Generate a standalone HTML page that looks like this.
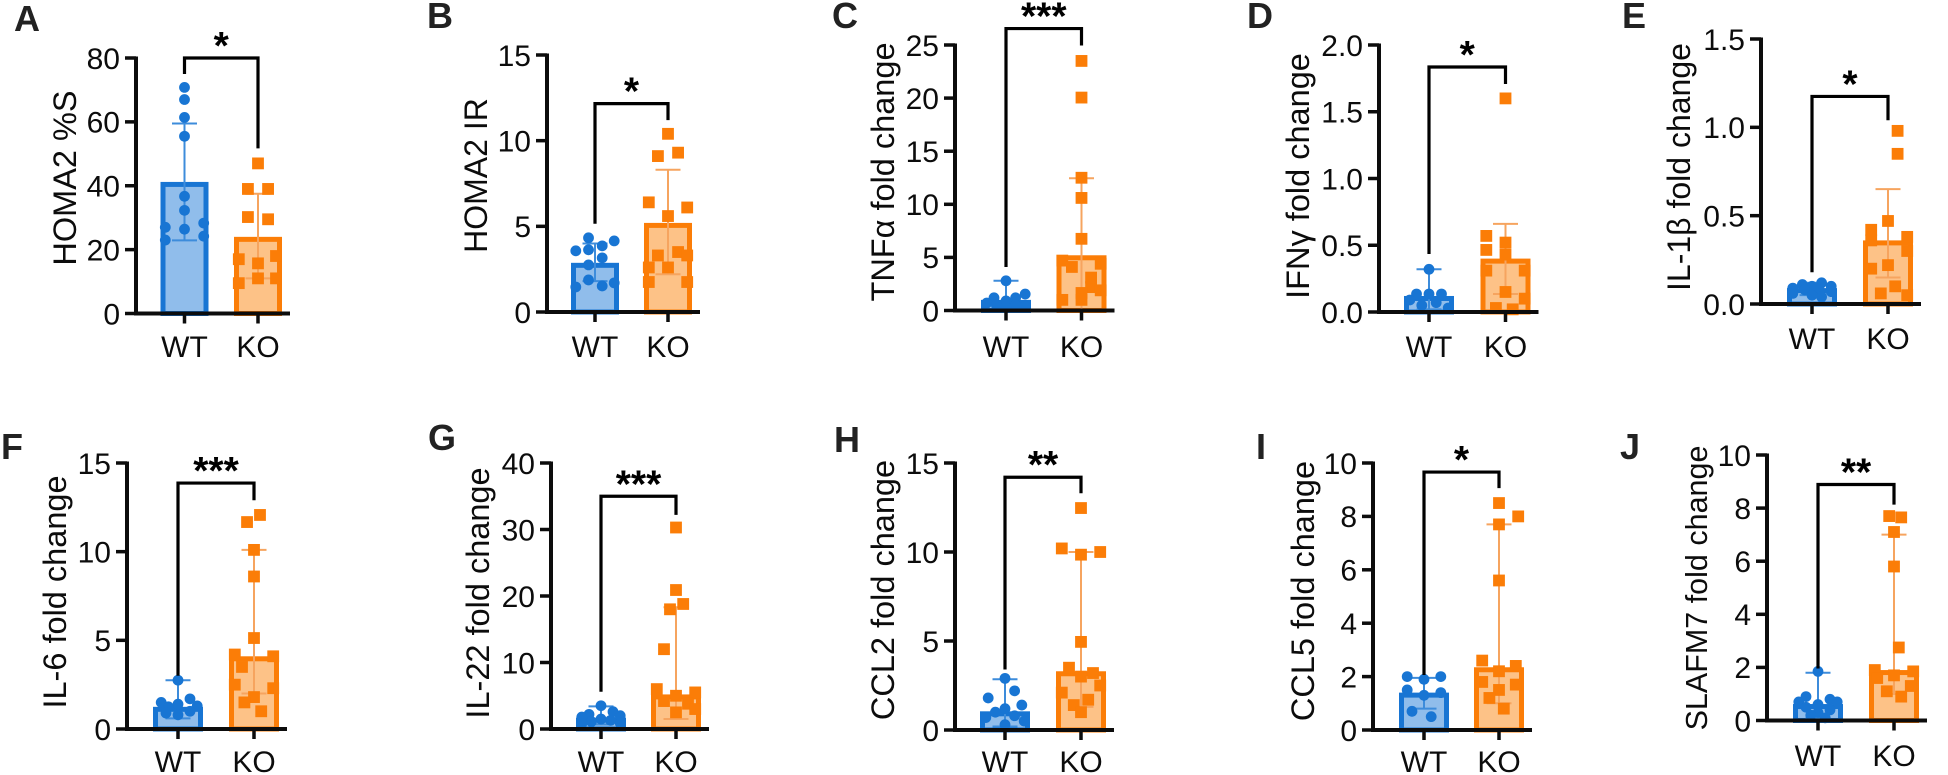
<!DOCTYPE html>
<html lang="en">
<head>
<meta charset="utf-8">
<title>HOMA2 and cytokine fold change in WT and KO</title>
<style>
html,body{margin:0;padding:0;background:#fff;}
body{width:1948px;height:775px;overflow:hidden;}
svg{display:block;font-family:"Liberation Sans",Arial,sans-serif;}
</style>
</head>
<body>
<svg id="figure" xmlns="http://www.w3.org/2000/svg" width="1948" height="775" viewBox="0 0 1948 775"></svg>
<script>
// ---- data ----
const panelLetters = ["A","B","C","D","E","F","G","H","I","J"];
const groupLabels = ["WT","KO"];
const yTitles = ["HOMA2 %S","HOMA2 IR","TNFα fold change","IFNγ fold change","IL-1β fold change","IL-6 fold change","IL-22 fold change","CCL2 fold change","CCL5 fold change","SLAFM7 fold change"];
const tickLabels = [
  ["0","20","40","60","80"],
  ["0","5","10","15"],
  ["0","5","10","15","20","25"],
  ["0.0","0.5","1.0","1.5","2.0"],
  ["0.0","0.5","1.0","1.5"],
  ["0","5","10","15"],
  ["0","10","20","30","40"],
  ["0","5","10","15"],
  ["0","2","4","6","8","10"],
  ["0","2","4","6","8","10"]
];
const stars = ["*","*","***","*","*","***","***","**","*","**"];
const wtMeans = [41.2,2.87,1.0,0.12,0.09,1.25,1.7,1.05,1.4,0.62];
const wtUppers = [59.5,4.0,2.8,0.32,0.12,2.75,3.4,2.85,1.95,1.8];
const wtLowers = [22.9,1.8,0,0.02,0.05,0.6,0.7,0.2,0.8,0.1];
const koMeans = [24,5.2,5.2,0.40,0.36,4.1,5.2,3.3,2.35,1.9];
const koUppers = [37.5,8.3,12.45,0.66,0.65,10.1,18.3,10,7.7,7.0];
const koLowers = [11,2.2,0,0.135,0.15,2,1.5,1.3,1,1];
const bracketTops = [80,12.16,26.55,1.835,1.175,13.87,35,14.2,9.66,8.89];
const bracketLeftEnds = [75,5.15,4.1,0.434,0.18,3,5.6,3.4,2.06,1.96];
const bracketRightEnds = [51.7,11.2,24.95,1.708,1.04,12.9,32.2,13.3,9.06,8.13];
const wtValues = [
  [70.8,67,61.4,55.5,36.7,32.3,26.4,27,23,28.3,24.2],
  [4.33,3.57,3.86,4.15,3.63,3.16,2.75,1.87,1.52,1.7,1.46],
  [2.8,1.55,1.2,1.2,0.9,0.7,0.5,0.5,0.4,0.3],
  [0.32,0.135,0.135,0.135,0.09,0.07,0.05,0.03],
  [0.12,0.11,0.1,0.1,0.09,0.08,0.08,0.07,0.06,0.05,0.04],
  [2.75,1.7,1.5,1.4,1.3,1.25,1,0.9,0.8],
  [3.5,2.6,2.2,2,1.8,1.5,1.3,1.1,0.9,0.8],
  [2.9,2.2,1.8,1.4,1.2,1,0.8,0.7,0.5,0.3],
  [2,2,1.9,1.5,1.4,1.3,0.7,0.5],
  [1.85,0.9,0.8,0.7,0.7,0.6,0.5,0.4,0.3,0.2,0.1]
];
const wtSwarm = [
  [0,0,0,0,0,0,0,-0.8,-0.8,0.8,0.8],
  [-0.27,-0.8,0.3,0.8,-0.27,0.3,-0.27,-0.27,0.3,0.8,-0.8],
  [0,0.8,0.4,-0.5,0,-0.8,0.4,-0.4,0.8,0],
  [0,-0.52,0,0.52,-0.8,0.3,-0.3,0.8],
  [0.4,-0.4,0,0.8,-0.8,0.3,-0.3,0.8,-0.8,0,0.4],
  [0,0.5,-0.7,0,0.8,-0.4,0.5,-0.5,0],
  [0,0.5,-0.5,0.8,-0.8,0,0.4,-0.4,0.8,-0.8],
  [0,0.4,-0.7,0.7,0,-0.4,0.4,-0.8,0.8,0],
  [-0.7,0.7,0,-0.7,0.7,0,-0.5,0.3],
  [0,-0.5,0.5,-0.8,0.8,0,-0.5,0.5,0,-0.3,0.3]
];
const koValues = [
  [47,39,39,30.2,29.5,15.7,11,17,18,9.5,11],
  [10.4,9.1,9.3,6.4,6.1,5.6,3.3,3.5,3.3,2.6,2.6,1.75,1.75],
  [23.5,20.05,12.5,10.6,6.75,4.7,4.4,4.1,2.2,3.1,1.65,1,1.9,1],
  [1.6,0.57,0.465,0.52,0.43,0.31,0.31,0.15,0.1,0.03,0.02],
  [0.98,0.85,0.47,0.42,0.38,0.36,0.3,0.22,0.2,0.1,0.06,0.05],
  [12.07,11.67,10.1,8.6,5.13,4.2,4.1,3.5,2.5,2.3,1.8,1.5,1],
  [30.3,20.9,18.8,18,12,6,5.5,5,4.2,3.8,3,2.5],
  [12.47,10.2,9.85,10,4.95,3.5,3.2,3,2.5,2.1,1.7,1.4,1],
  [8.5,8,7.7,5.6,2.6,2.4,2.2,1.8,1.7,1.5,1.2,0.8],
  [7.7,7.65,7.1,5.8,2.75,1.9,1.85,1.7,1.6,1.3,1.1,0.9]
];
const koSwarm = [
  [0,-0.42,0.42,-0.42,0.42,0,0,-0.8,0.75,-0.8,0.75],
  [0,-0.42,0.42,-0.8,0.8,0,-0.42,0.42,0.8,0,-0.8,-0.8,0.8],
  [0,0,0,0,0,-0.8,0.8,-0.4,0.4,0.4,0,-0.8,0.8,0],
  [0,-0.8,-0.8,0,0,-0.8,0.8,0,0.8,-0.4,0.3],
  [0.4,0.4,0,-0.7,0.8,-0.7,0.8,0,-0.7,0.3,-0.3,0.8],
  [0.25,-0.29,0,0,0,-0.8,0.8,-0.5,-0.8,0.8,0,-0.4,0.3],
  [0,0,0.3,-0.25,-0.5,-0.8,0.8,0,-0.5,0.5,0.8,0],
  [0,-0.8,0,0.8,0,-0.5,0.5,0,0.8,-0.8,0.3,-0.3,0],
  [0,0.8,0,0,-0.7,0.7,0,-0.7,0.7,0,-0.4,0.2],
  [-0.2,0.3,0,0,0.2,-0.8,0.8,0,-0.7,0.7,-0.3,0.3]
];

// ---- panel layout (not data) ----
const frames = [
  {ax:136,wt:184.5,ko:258,bw:48,y0:313.5,yT:58,tx:65,ty:178,fs:32.5,lx:14,ly:31,base:357},
  {ax:547,wt:595,ko:668,bw:48,y0:312,yT:55,tx:476,ty:175.5,fs:32,lx:427,ly:28,base:357},
  {ax:955,wt:1006,ko:1081.5,bw:50,y0:310.5,yT:45,tx:883,ty:172,fs:32.5,lx:832,ly:28,base:357},
  {ax:1379,wt:1429,ko:1505.5,bw:50,y0:312,yT:45,tx:1298,ty:176,fs:32.5,lx:1247,ly:28,base:357},
  {ax:1761,wt:1812,ko:1888,bw:50,y0:304,yT:39,tx:1679,ty:167,fs:32,lx:1622,ly:28,base:349},
  {ax:127,wt:178,ko:254,bw:50,y0:729,yT:463,tx:55,ty:592,fs:32.5,lx:1,ly:459,base:772},
  {ax:551,wt:601,ko:676,bw:50,y0:729,yT:463,tx:478,ty:593,fs:32.5,lx:428,ly:450,base:772},
  {ax:955,wt:1005,ko:1081,bw:50,y0:730,yT:463,tx:883,ty:590,fs:32.5,lx:834,ly:452,base:772},
  {ax:1373,wt:1424,ko:1499,bw:50,y0:730,yT:463,tx:1303,ty:591,fs:32.5,lx:1256,ly:459,base:772},
  {ax:1767,wt:1818,ko:1894,bw:50,y0:720.5,yT:455,tx:1696,ty:588,fs:30.5,lx:1620,ly:459,base:766}
];
const blue = {solid:"#1875d3", light:"#90bdeb", err:"#3d8cdb"};
const orange = {solid:"#fb7d07", light:"#fdc287", err:"#f6a45f"};
const ink = "#0c0c0c";
const NS = "http://www.w3.org/2000/svg";
const root = document.getElementById("figure");

function mk(parent, tag, props, text){
  const el = document.createElementNS(NS, tag);
  for (const k in props) el.setAttribute(k, props[k]);
  if (text !== undefined) el.textContent = text;
  parent.appendChild(el);
  return el;
}

function drawGroup(g, i, f, yScale, cx, col, groupKey, mean, upper, lower, vals, swarm){
  const bar = mk(g, "rect", {x:cx-f.bw/2+2.5, y:yScale(mean)+2.5, width:f.bw-5, height:Math.max(0,f.y0-yScale(mean)-2.5), fill:col.light, stroke:col.solid, "stroke-width":5});
  
  

  const errV = mk(g, "line", {x1:cx, x2:cx, y1:yScale(upper), y2:yScale(lower), stroke:col.err, "stroke-width":2});
  
  
  const capU = mk(g, "line", {x1:cx-12.5, x2:cx+12.5, y1:yScale(upper), y2:yScale(upper), stroke:col.err, "stroke-width":2});
  
  
  const capL = mk(g, "line", {x1:cx-12.5, x2:cx+12.5, y1:yScale(lower), y2:yScale(lower), stroke:col.err, "stroke-width":2});
  
  

  vals.forEach(function(v, j){
    const px = cx + swarm[j] * 24;
    const py = yScale(v);
    let pt;
    if (groupKey === "wt") {
      pt = mk(g, "circle", {cx:px, cy:py, r:5.4, fill:col.solid});
    } else {
      pt = mk(g, "rect", {x:px-5.9, y:py-5.9, width:11.8, height:11.8, fill:col.solid});
    }
    
    
  });
}

frames.forEach(function(f, i){
  const labels = tickLabels[i];
  const maxTick = parseFloat(labels[labels.length-1]);
  const yScale = function(v){ return f.y0 - v * (f.y0 - f.yT) / maxTick; };

  const g = mk(root, "g", {});
  
  

  const letter = mk(g, "text", {x:f.lx, y:f.ly, "font-size":36, "font-weight":700, fill:"#222"}, panelLetters[i]);
  
  

  const title = mk(g, "text", {transform:"translate(" + (f.tx + 11) + "," + f.ty + ") rotate(-90)", "text-anchor":"middle", "font-size":f.fs, fill:ink}, yTitles[i]);
  
  

  drawGroup(g, i, f, yScale, f.wt, blue, "wt", wtMeans[i], wtUppers[i], wtLowers[i], wtValues[i], wtSwarm[i]);
  drawGroup(g, i, f, yScale, f.ko, orange, "ko", koMeans[i], koUppers[i], koLowers[i], koValues[i], koSwarm[i]);

  const yAxis = mk(g, "line", {x1:f.ax, x2:f.ax, y1:f.yT-1.5, y2:f.y0+2, stroke:ink, "stroke-width":4});
  
  
  const xAxis = mk(g, "line", {x1:f.ax-2, x2:f.ko+f.bw/2+8, y1:f.y0, y2:f.y0, stroke:ink, "stroke-width":4});
  
  

  labels.forEach(function(lab){
    const ty = yScale(parseFloat(lab));
    const tick = mk(g, "line", {x1:f.ax-11, x2:f.ax, y1:ty, y2:ty, stroke:ink, "stroke-width":3.5});
    
    
    const tl = mk(g, "text", {x:f.ax-16, y:ty+10.8, "text-anchor":"end", "font-size":30, fill:ink}, lab);
    
    
  });

  [f.wt, f.ko].forEach(function(cx, k){
    const tick = mk(g, "line", {x1:cx, x2:cx, y1:f.y0, y2:f.y0+10, stroke:ink, "stroke-width":3.5});
    
    
    const tl = mk(g, "text", {x:cx, y:f.base, "text-anchor":"middle", "font-size":30, fill:ink}, groupLabels[k]);
    
    
  });

  const by = yScale(bracketTops[i]);
  const bracket = mk(g, "path", {d:"M" + f.wt + " " + yScale(bracketLeftEnds[i]) + "V" + by + "H" + f.ko + "V" + yScale(bracketRightEnds[i]), fill:"none", stroke:"#000", "stroke-width":3.2});
  
  
  const star = mk(g, "text", {x:(f.wt+f.ko)/2, y:by+1, "text-anchor":"middle", "font-size":39, "font-weight":700, fill:"#000"}, stars[i]);
  
  
});
</script>
</body>
</html>
